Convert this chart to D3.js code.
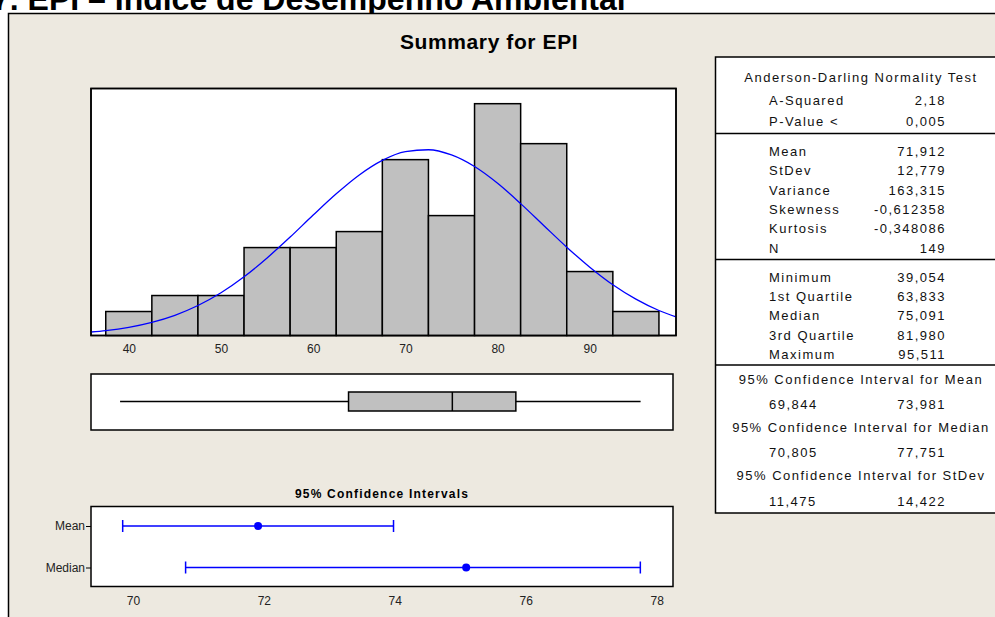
<!DOCTYPE html>
<html><head><meta charset="utf-8">
<script src="https://cdn.jsdelivr.net/npm/d3@7"></script>
<style>
body{margin:0;background:#fff;overflow:hidden;}
svg{display:block;}
.narrow{font-family:"Liberation Sans Narrow","Arial Narrow","Liberation Sans",sans-serif;font-stretch:condensed;}
</style>
</head><body><svg id="c" width="995" height="617"></svg>
<script>
// ---------------- data ----------------
const headingText = "7. EPI – Índice de Desempenho Ambiental";
const chartTitle = "Summary for EPI";
const binEdges = [37.5,42.5,47.5,52.5,57.5,62.5,67.5,72.5,77.5,82.5,87.5,92.5,97.5];
const binCounts = [3,5,5,11,11,13,22,15,29,24,8,3];
const histTicks = [40,50,60,70,80,90];
// fitted normal curve (count scale)
const fitX = [35.9,37.5,40,42.5,45,47.5,50,52.5,55,57.5,60,62.5,65,67.5,70,72.5,75,77.5,80,82.5,85,87.5,90,92.5,95,97.5,99.35];
const fitY = [0.44,0.62,1.03,1.65,2.53,3.75,5.34,7.34,9.70,12.31,15.07,17.73,20.09,21.91,23.0,23.24,22.59,21.14,19.04,16.50,13.77,11.05,8.55,6.35,4.55,3.13,2.34];

const adTitle = "Anderson-Darling Normality Test";
const adLabels = ["A-Squared","P-Value <"];
const adValues = ["2,18","0,005"];
const descLabels = ["Mean","StDev","Variance","Skewness","Kurtosis","N"];
const descValues = ["71,912","12,779","163,315","-0,612358","-0,348086","149"];
const quantLabels = ["Minimum","1st Quartile","Median","3rd Quartile","Maximum"];
const quantValues = ["39,054","63,833","75,091","81,980","95,511"];
const ciTitles = ["95% Confidence Interval for Mean","95% Confidence Interval for Median","95% Confidence Interval for StDev"];
const ciLowText = ["69,844","70,805","11,475"];
const ciHighText = ["73,981","77,751","14,422"];

const ciPanelTitle = "95% Confidence Intervals";
const ciNames = ["Mean","Median"];
const ciEst = [71.912, 75.091];
const ciLo = [69.844, 70.805];
const ciHi = [73.981, 77.751];
const ciTicks = [70,72,74,76,78];

// ---------------- drawing ----------------
const svg = d3.select("#c");
const num = s => +s.replace(",", ".");
const box = quantValues.map(num); // min, q1, median, q3, max

// heading (cut off at top)
svg.append("text").attr("x", -8).attr("y", 9.5)
  .attr("font-family", "Liberation Sans, Arial, sans-serif")
  .attr("font-weight", "bold").attr("font-size", 32)
  .text(headingText);

// panel
svg.append("rect").attr("x", 8.5).attr("y", 13.5).attr("width", 1100).attr("height", 700)
  .attr("fill", "#EDE9E0").attr("stroke", "#000").attr("stroke-width", 1.5);

svg.append("text").attr("x", 400).attr("y", 48.5)
  .attr("font-family", "Liberation Sans, Arial, sans-serif").attr("font-weight", "bold")
  .attr("font-size", 21).attr("letter-spacing", 0.6).text(chartTitle);

// histogram
const hx = d3.scaleLinear().domain([35.9, 99.35]).range([91, 676]);
const hy = d3.scaleLinear().domain([0, 30.9]).range([335.5, 88.5]);
svg.append("rect").attr("x", 91).attr("y", 88.5).attr("width", 585).attr("height", 247)
  .attr("fill", "#fff").attr("stroke", "#000").attr("stroke-width", 1.5);
svg.append("g").selectAll("rect").data(binCounts).join("rect")
  .attr("x", (d, i) => hx(binEdges[i]))
  .attr("width", (d, i) => hx(binEdges[i + 1]) - hx(binEdges[i]))
  .attr("y", d => hy(d)).attr("height", d => hy(0) - hy(d))
  .attr("fill", "#C0C0C0").attr("stroke", "#000").attr("stroke-width", 1.5);
svg.append("path").datum(fitX.map((v, i) => [v, fitY[i]]))
  .attr("d", d3.line().x(d => hx(d[0])).y(d => hy(d[1])).curve(d3.curveMonotoneX))
  .attr("fill", "none").attr("stroke", "#0000FF").attr("stroke-width", 1.3);
svg.append("rect").attr("x", 91).attr("y", 88.5).attr("width", 585).attr("height", 247)
  .attr("fill", "none").attr("stroke", "#000").attr("stroke-width", 1.5);
const hax = svg.append("g").attr("transform", "translate(0,336)")
  .call(d3.axisBottom(hx).tickValues(histTicks).tickSize(0).tickPadding(8));
hax.select(".domain").remove();
hax.selectAll("text").attr("font-size", 12).attr("fill", "#222")
  .attr("font-family", "Liberation Sans, Arial, sans-serif");

// box plot
svg.append("rect").attr("x", 91).attr("y", 374).attr("width", 582).attr("height", 56)
  .attr("fill", "#fff").attr("stroke", "#000").attr("stroke-width", 1.5);
const bg = svg.append("g").attr("stroke", "#000").attr("stroke-width", 1.5);
bg.append("line").attr("x1", hx(box[0])).attr("x2", hx(box[1])).attr("y1", 401.5).attr("y2", 401.5);
bg.append("line").attr("x1", hx(box[3])).attr("x2", hx(box[4])).attr("y1", 401.5).attr("y2", 401.5);
bg.append("rect").attr("x", hx(box[1])).attr("width", hx(box[3]) - hx(box[1]))
  .attr("y", 392).attr("height", 19).attr("fill", "#C0C0C0");
bg.append("line").attr("x1", hx(box[2])).attr("x2", hx(box[2])).attr("y1", 392).attr("y2", 411);

// CI panel
svg.append("text").attr("x", 382).attr("y", 498).attr("text-anchor", "middle")
  .attr("font-family", "Liberation Sans, Arial, sans-serif").attr("font-weight", "bold")
  .attr("font-size", 12).attr("letter-spacing", 1.2).text(ciPanelTitle);
const cx = d3.scaleLinear().domain([69.36, 78.25]).range([91, 673]);
const cy = d3.scalePoint().domain(ciNames).range([526, 567.5]);
svg.append("rect").attr("x", 91).attr("y", 506.5).attr("width", 582).attr("height", 80)
  .attr("fill", "#fff").attr("stroke", "#000").attr("stroke-width", 1.5);
const cg = svg.append("g").selectAll("g").data(ciNames).join("g")
  .attr("transform", d => `translate(0,${cy(d)})`);
cg.append("line").attr("x1", (d, i) => cx(ciLo[i])).attr("x2", (d, i) => cx(ciHi[i]))
  .attr("stroke", "#0000FF").attr("stroke-width", 1.5);
cg.append("line").attr("x1", (d, i) => cx(ciLo[i])).attr("x2", (d, i) => cx(ciLo[i]))
  .attr("y1", -6).attr("y2", 6).attr("stroke", "#0000FF").attr("stroke-width", 1.5);
cg.append("line").attr("x1", (d, i) => cx(ciHi[i])).attr("x2", (d, i) => cx(ciHi[i]))
  .attr("y1", -6).attr("y2", 6).attr("stroke", "#0000FF").attr("stroke-width", 1.5);
cg.append("circle").attr("cx", (d, i) => cx(ciEst[i])).attr("r", 4).attr("fill", "#0000FF");
const cax = svg.append("g").attr("transform", "translate(0,587)")
  .call(d3.axisBottom(cx).tickValues(ciTicks).tickSize(0).tickPadding(9));
cax.select(".domain").remove();
cax.selectAll("text").attr("class", "narrow").attr("font-size", 12).attr("fill", "#222");
const cay = svg.append("g").attr("transform", "translate(91,0)")
  .call(d3.axisLeft(cy).tickSize(5).tickPadding(1));
cay.select(".domain").remove();
cay.selectAll("line").attr("stroke", "#000");
cay.selectAll("text").attr("class", "narrow").attr("font-size", 12).attr("fill", "#222");

// stats table
svg.append("rect").attr("x", 715.5).attr("y", 57).attr("width", 400).attr("height", 456)
  .attr("fill", "#fff").attr("stroke", "#000").attr("stroke-width", 1.5);
[133.5, 259.5, 365].forEach(y =>
  svg.append("line").attr("x1", 715).attr("x2", 995).attr("y1", y).attr("y2", y)
    .attr("stroke", "#000").attr("stroke-width", 1.5));
const tg = svg.append("g").attr("font-family", "Liberation Sans, Arial, sans-serif")
  .attr("font-size", 13).attr("letter-spacing", 1.5).attr("fill", "#111");
const labX = 769, valX = 946, midX = 861;
tg.append("text").attr("x", midX).attr("y", 82).attr("text-anchor", "middle").text(adTitle);
function rows(labels, values, y0, dy) {
  labels.forEach((l, i) => {
    tg.append("text").attr("x", labX).attr("y", y0 + i * dy).text(l);
    tg.append("text").attr("x", valX).attr("y", y0 + i * dy).attr("text-anchor", "end").text(values[i]);
  });
}
rows(adLabels, adValues, 105, 21);
rows(descLabels, descValues, 156, 19.3);
rows(quantLabels, quantValues, 281.5, 19.4);
ciTitles.forEach((t, i) => {
  const y = 383.5 + i * 48.3;
  tg.append("text").attr("x", midX).attr("y", y).attr("text-anchor", "middle").text(t);
  tg.append("text").attr("x", labX).attr("y", y + 25.5).text(ciLowText[i]);
  tg.append("text").attr("x", valX).attr("y", y + 25.5).attr("text-anchor", "end").text(ciHighText[i]);
});
</script>
</body></html>
